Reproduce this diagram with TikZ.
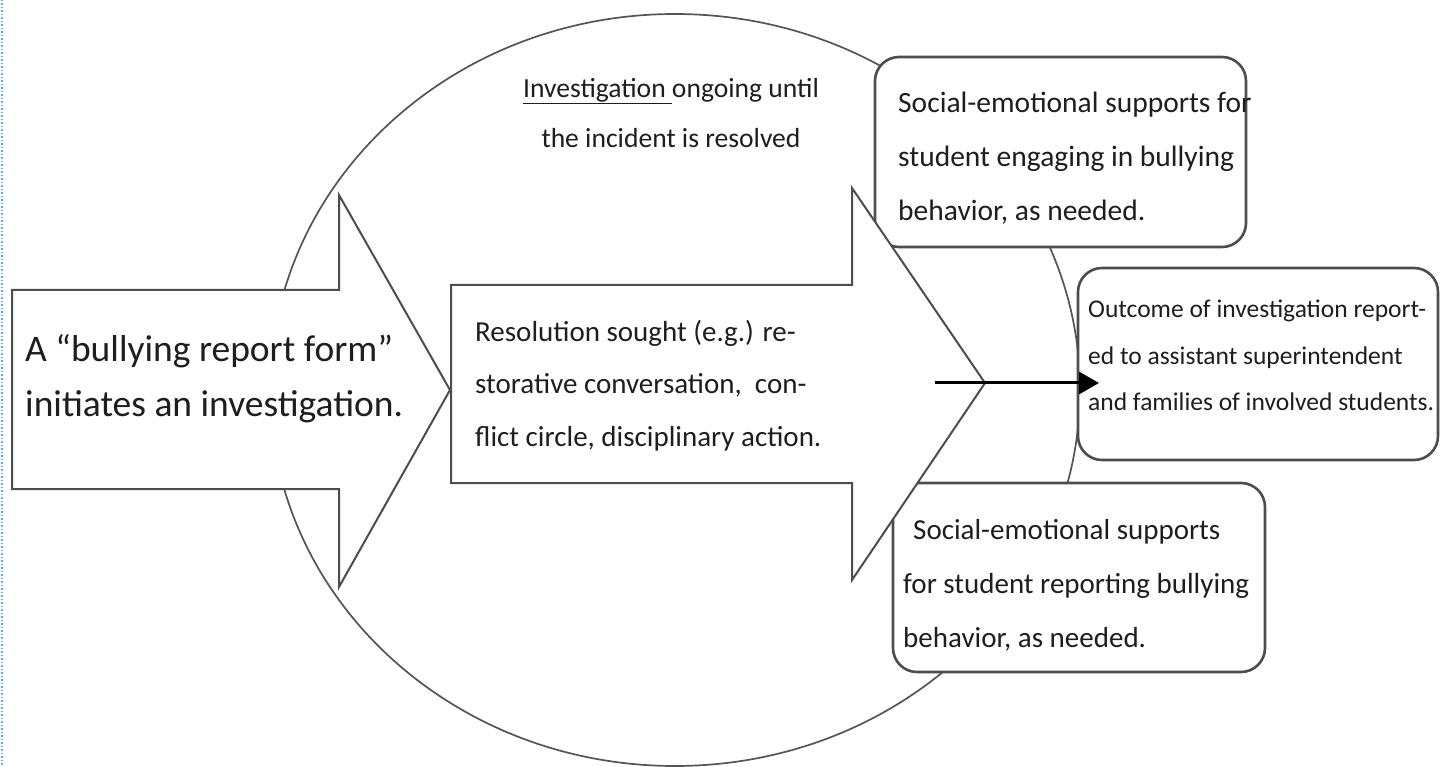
\documentclass[tikz,border=0pt]{standalone}
\usepackage{fontspec}
\setmainfont{Carlito}
\usetikzlibrary{arrows.meta}
\definecolor{linegray}{HTML}{4d4d4d}
\definecolor{ellgray}{HTML}{555555}
\definecolor{txt}{HTML}{1e1e1e}
\definecolor{dotblue}{HTML}{5aaee0}
\tikzset{
  shapeline/.style={draw=linegray, line width=2pt, fill=white, line join=miter},
  roundbox/.style={draw=linegray, line width=2.6pt, fill=white, rounded corners=24pt, inner sep=0pt},
  txtnode/.style={inner sep=0pt, anchor=north west, align=left, text=txt},
}
\begin{document}
\begin{tikzpicture}[x=1pt,y=-1pt]
\useasboundingbox (0,0) rectangle (1441,767);
\fill[white] (0,0) rectangle (1441,767);
\draw[dotblue, line width=1.5pt, dotted] (2,0) -- (2,767);
% enclosing ellipse
\draw[draw=ellgray, line width=1.7pt] (675,390) ellipse [x radius=405, y radius=376];
% rounded boxes
\node[roundbox, minimum width=371pt, minimum height=190pt] (box1) at (1060.5,152) {};
\node[roundbox, minimum width=372pt, minimum height=189pt] (box3) at (1079,577.5) {};
\node[roundbox, minimum width=360pt, minimum height=192pt] (box2) at (1258,364) {};
% block arrows
\draw[shapeline] (12,290) -- (339,290) -- (339,195) -- (450,390) -- (339,587) -- (339,489) -- (12,489) -- cycle;
\draw[shapeline] (451,285) -- (852,285) -- (852,188) -- (985,383) -- (852,580) -- (852,483) -- (451,483) -- cycle;
% connector
\coordinate (cstart) at (935,383);
\coordinate (ctip) at (1099,383);
\draw[black, line width=3pt, -{Triangle[length=20pt,width=22pt]}] (cstart) -- (ctip);
% texts
\node[txtnode, font=\fontsize{37.5}{55}\selectfont] (t1) at (25,334) {A “bullying report form”\\initiates an investigation.};
\node[txtnode, font=\fontsize{29}{52.5}\selectfont] (t2) at (475,320) {Resolution sought (e.g.) re-\\storative conversation,\ \ con-\\flict circle, disciplinary action.};
\node[txtnode, font=\fontsize{29.5}{54}\selectfont] (t3) at (898,92) {Social-emotional supports for\\student engaging in bullying\\behavior, as needed.};
\node[txtnode, font=\fontsize{25.5}{46.5}\selectfont] (t4) at (1088,300) {Outcome of investigation report-\\ed to assistant superintendent\\and families of involved students.};
\node[txtnode, font=\fontsize{29}{54}\selectfont] (t5) at (903,519) {\hspace{10pt}Social-emotional supports\\for student reporting bullying\\behavior, as needed.};
\node[inner sep=0pt, anchor=north, align=center, text=txt, font=\fontsize{27.6}{50}\selectfont] (t6) at (671,78) {\underline{Investigation\ }ongoing until\\the incident is resolved};
\end{tikzpicture}
\end{document}
